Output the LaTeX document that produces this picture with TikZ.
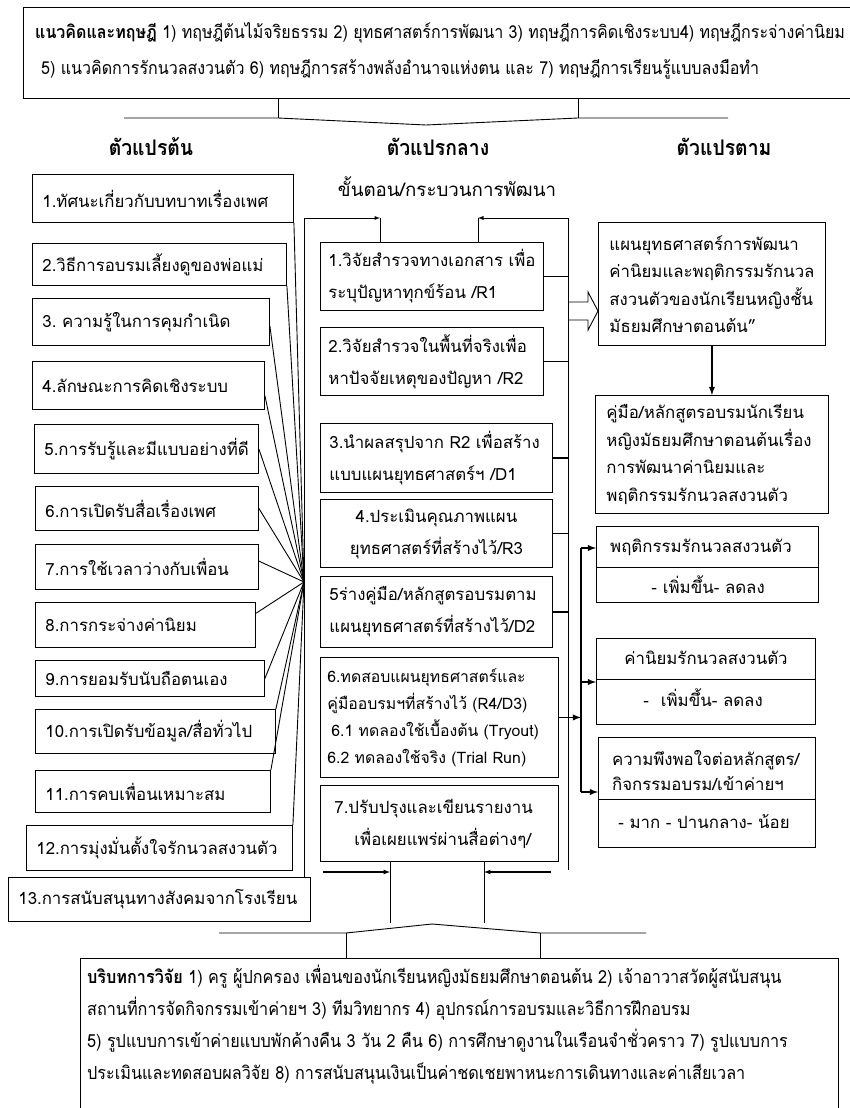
\documentclass[tikz,border=0pt]{standalone}
\usepackage{fontspec}
\newfontfamily\thai[Script=Thai]{Loma}
\newfontfamily\thaicond[Script=Thai,FakeStretch=0.9]{Loma}
\usetikzlibrary{arrows,calc,positioning}
\hyphenpenalty=10000
\exhyphenpenalty=10000

\tikzset{
  lbox/.style={draw, line width=0.9pt, anchor=north west, inner xsep=11pt, inner ysep=0pt, align=left, font=\thai\fontsize{16.8}{20}\selectfont},
  mbox/.style={draw, line width=0.9pt, anchor=north west, inner xsep=8pt, inner ysep=0pt, align=left, font=\thai\fontsize{16.8}{32}\selectfont},
  rbox/.style={draw, line width=0.9pt, anchor=north west, inner xsep=12pt, inner ysep=0pt, align=left, font=\thai\fontsize{16.8}{27.5}\selectfont},
  rtxt/.style={inner sep=0pt, align=left, font=\thai\fontsize{16.8}{25}\selectfont},
  head/.style={font=\thaicond\bfseries\fontsize{21.5}{24}\selectfont},
  wide/.style={inner sep=0pt, align=left, font=\thaicond\fontsize{17.8}{36}\selectfont},
  link/.style={line width=0.9pt},
  bold link/.style={line width=1.8pt},
}

\begin{document}
\begin{tikzpicture}[x=1pt,y=-1pt]
\useasboundingbox (0,0) rectangle (849,1108);

% concepts and theory
\node[draw, line width=0.9pt, anchor=north west, minimum width=830pt, minimum height=91pt] (theory) at (23,7) {};
\node[wide, anchor=west] (theorytext) at (35,51) {\textbf{แนวคิดและทฤษฎี} 1) ทฤษฎีต้นไม้จริยธรรม 2) ยุทธศาสตร์การพัฒนา 3) ทฤษฎีการคิดเชิงระบบ4) ทฤษฎีกระจ่างค่านิยม\\
\hspace*{6pt}5) แนวคิดการรักนวลสงวนตัว 6) ทฤษฎีการสร้างพลังอำนาจแห่งตน และ 7) ทฤษฎีการเรียนรู้แบบลงมือทำ};
\draw[link] (124,118) -- (278,118) -- (426,125) -- (578,118) -- (728,118);
\draw[link] (theory.south -| 278,0) -- (278,118);
\draw[link] (theory.south -| 578,0) -- (578,118);

\node[head] (hin) at (151,147) {ตัวแปรต้น};
\node[head] (hmid) at (438,147) {ตัวแปรกลาง};
\node[head] (hout) at (724,147) {ตัวแปรตาม};
\node[font=\thai\fontsize{18.7}{22}\selectfont] (steps) at (447,187) {ขั้นตอน/กระบวนการพัฒนา};

% independent variables
\foreach \n/\xa/\ya/\xb/\yb/\txt in {
  1/32/174/293/222/{1.ทัศนะเกี่ยวกับบทบาทเรื่องเพศ},
  2/32/243/286/285/{2.วิธีการอบรมเลี้ยงดูของพ่อแม่},
  3/32/298/269/345/{3.~ความรู้ในการคุมกำเนิด},
  4/32/361/264/409/{4.ลักษณะการคิดเชิงระบบ},
  5/34/424/258/473/{5.การรับรู้และมีแบบอย่างที่ดี},
  6/35/486/258/530/{6.การเปิดรับสื่อเรื่องเพศ},
  7/35/544/258/589/{7.การใช้เวลาว่างกับเพื่อน},
  8/35/602/255/647/{8.การกระจ่างค่านิยม},
  9/35/660/264/696/{9.การยอมรับนับถือตนเอง},
  10/35/709/275/753/{10.การเปิดรับข้อมูล/สื่อทั่วไป},
  11/35/770/270/812/{11.การคบเพื่อนเหมาะสม},
  12/26/825/292/870/{12.การมุ่งมั่นตั้งใจรักนวลสงวนตัว},
  13/8/877/310/921/{13.การสนับสนุนทางสังคมจากโรงเรียน}} {
  \pgfmathsetmacro{\w}{\xb-\xa}
  \pgfmathsetmacro{\h}{\yb-\ya}
  \pgfmathsetmacro{\tw}{\xb-\xa-20}
  \node[lbox, inner xsep=10pt, minimum width=\w pt, minimum height=\h pt, text width=\tw pt] (v\n) at (\xa,\ya) {\txt};
}

\coordinate (hub) at (304,582);
\coordinate (ftl) at (304,218);
\coordinate (ftr) at (568,218);
\coordinate (ua) at (380,218);
\coordinate (ub) at (478,218);
\coordinate (fbr) at (568,870);

\foreach \n/\a in {1/south east, 2/south east, 3/-2, 4/-5, 5/east, 6/east, 7/3, 8/6, 9/east, 10/north east, 11/north east, 12/north east}
  \draw[link] (v\n.\a) -- (hub);

% development steps
\node[mbox, minimum width=223pt, minimum height=68pt, text width=207pt] (m1) at (320,242) {1.วิจัยสำรวจทางเอกสาร~เพื่อ\\ระบุปัญหาทุกข์ร้อน~/R1};
\node[mbox, minimum width=223pt, minimum height=68pt, text width=207pt] (m2) at (320,327) {2.วิจัยสำรวจในพื้นที่จริงเพื่อ\\หาปัจจัยเหตุของปัญหา~/R2};
\node[mbox, minimum width=232pt, minimum height=69pt, text width=214pt] (m3) at (320,423) {3.นำผลสรุปจาก~R2~เพื่อสร้าง\\แบบแผนยุทธศาสตร์ฯ~/D1};
\node[mbox, minimum width=232pt, minimum height=68pt, text width=214pt, align=center] (m4) at (320,499) {4.ประเมินคุณภาพแผน\\ยุทธศาสตร์ที่สร้างไว้/R3};
\node[mbox, minimum width=232pt, minimum height=71pt, text width=214pt] (m5) at (320,576) {5ร่างคู่มือ/หลักสูตรอบรมตาม\\แผนยุทธศาสตร์ที่สร้างไว้/D2};
\node[mbox, minimum width=238pt, minimum height=120pt, text width=224pt, inner xsep=7pt, font=\thai\fontsize{15.8}{27}\selectfont] (m6) at (320,657) {6.ทดสอบแผนยุทธศาสตร์และ\\คู่มืออบรมฯที่สร้างไว้~(R4/D3)\\\mbox{\hspace*{4pt}6.1~ทดลองใช้เบื้องต้น~(Tryout)}\\\mbox{6.2~ทดลองใช้จริง~(Trial~Run)}};
\node[mbox, minimum width=238pt, minimum height=76pt, text width=222pt] (m7) at (320,785) {\hspace*{6pt}7.ปรับปรุงและเขียนรายงาน\\\hspace*{26pt}เพื่อเผยแพร่ผ่านสื่อต่างๆ/};

\draw[link,-latex] (v13.north -| ftl) -- (ftl) -- (ua);
\draw[link] (m1.north -| ua) -- (ua);
\draw[link,-latex] (fbr) -- (ftr) -- (ub);
\draw[link] (m1.north -| ub) -- (ub);
\foreach \n in {1,2}
  \draw[link] (m\n.east) -- (m\n.east -| ftr);
\foreach \n in {3,4,5}
  \draw[bold link] (m\n.east) -- (m\n.east -| ftr);

% dependent variables
\node[rbox, minimum width=227pt, minimum height=123pt, text width=205pt, inner xsep=11pt] (r1) at (598,222) {แผนยุทธศาสตร์การพัฒนา\\ค่านิยมและพฤติกรรมรักนวล\\สงวนตัวของนักเรียนหญิงชั้น\\มัธยมศึกษาตอนต้น”};
\node[rbox, minimum width=233pt, minimum height=118pt, text width=211pt, inner xsep=11pt] (r2) at (595,395) {คู่มือ/หลักสูตรอบรมนักเรียน\\หญิงมัธยมศึกษาตอนต้นเรื่อง\\การพัฒนาค่านิยมและ\\พฤติกรรมรักนวลสงวนตัว};
\draw[link] (ftr |- 0,302) -- (588,302) -- (588,292) -- (r1.west |- 0,311) -- (588,330) -- (588,320) -- (ftr |- 0,320);
\draw[bold link,-latex] (r1.south) -- (r2.north);

\node[draw, line width=0.9pt, anchor=north west, minimum width=222pt, minimum height=76pt] (r3) at (596,526) {};
\draw[link] (r3.west |- 0,567) -- (r3.east |- 0,567);
\node[rtxt, anchor=west] (r3a) at (610,547) {พฤติกรรมรักนวลสงวนตัว};
\node[rtxt] (r3b) at (708,585) {-\hspace{6pt}เพิ่มขึ้น- ลดลง};

\node[draw, line width=0.9pt, anchor=north west, minimum width=219pt, minimum height=86pt] (r4) at (596,638) {};
\draw[link] (r4.west |- 0,679) -- (r4.east |- 0,679);
\node[rtxt] (r4a) at (706,658) {ค่านิยมรักนวลสงวนตัว};
\node[rtxt] (r4b) at (703,698) {-\hspace{12pt}เพิ่มขึ้น- ลดลง};

\node[draw, line width=0.9pt, anchor=north west, minimum width=217pt, minimum height=110pt] (r5) at (598,737) {};
\draw[link] (r5.west |- 0,799) -- (r5.east |- 0,799);
\node[rtxt, anchor=west] (r5a) at (612,770) {ความพึงพอใจต่อหลักสูตร/\\กิจกรรมอบรม/เข้าค่ายฯ};
\node[rtxt] (r5b) at (704,822) {- มาก - ปานกลาง- น้อย};

\coordinate (rb1) at (581,548);
\coordinate (rb2) at (581,682);
\coordinate (rb3) at (581,792);
\draw[bold link,-latex] (m6.east) -- (m6.east -| rb1);
\draw[bold link] (rb1) -- (rb3);
\foreach \c/\n in {rb1/r3, rb2/r4, rb3/r5}
  \draw[bold link,-latex] (\c) -- (\c -| \n.west);

% research context
\coordinate (da) at (390,872);
\coordinate (db) at (484,872);
\coordinate (la) at (323,872);
\coordinate (lb) at (551,872);
\draw[link] (m7.south -| da) -- (390,923);
\draw[link] (m7.south -| db) -- (484,923);
\draw[link,line width=1.2pt,-latex] (la) -- (da);
\draw[link,line width=1.2pt,-latex] (lb) -- (db);

\node[draw, line width=0.9pt, anchor=north west, minimum width=758pt, minimum height=170pt] (ctx) at (80,958) {};
\draw[link] (219,933) -- (346,933) -- (432,924) -- (540,933) -- (646,933);
\draw[link] (346,933) -- (ctx.north -| 346,0);
\draw[link] (540,933) -- (ctx.north -| 540,0);
\node[wide, anchor=west, font=\thaicond\fontsize{18}{32}\selectfont] (ctxtext) at (87,1025) {\textbf{บริบทการวิจัย} 1) ครู ผู้ปกครอง เพื่อนของนักเรียนหญิงมัธยมศึกษาตอนต้น 2) เจ้าอาวาสวัดผู้สนับสนุน\\
สถานที่การจัดกิจกรรมเข้าค่ายฯ 3) ทีมวิทยากร 4) อุปกรณ์การอบรมและวิธีการฝึกอบรม\\
5) รูปแบบการเข้าค่ายแบบพักค้างคืน 3 วัน 2 คืน 6) การศึกษาดูงานในเรือนจำชั่วคราว 7) รูปแบบการ\\
ประเมินและทดสอบผลวิจัย 8) การสนับสนุนเงินเป็นค่าชดเชยพาหนะการเดินทางและค่าเสียเวลา};
\end{tikzpicture}
\end{document}
